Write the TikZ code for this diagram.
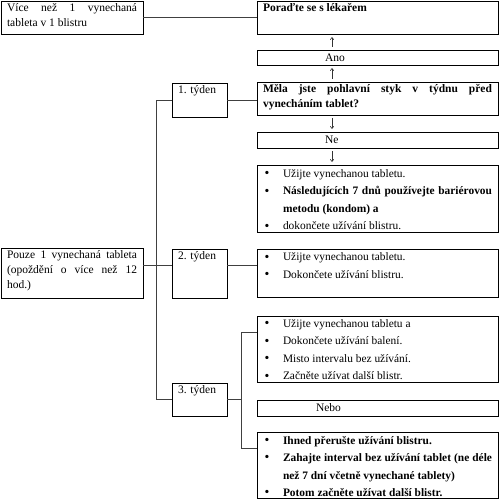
\documentclass[tikz,border=0pt]{standalone}
\usepackage{fontspec}
\setmainfont{Liberation Serif}
\usetikzlibrary{arrows.meta,calc}
\newcommand\bxt[3]{\parbox[t][#2][t]{#1}{#3}}
\newcommand\bxc[3]{\parbox[t][#2][c]{#1}{#3}}
\newcommand\itm[1]{\noindent\hangindent=20pt\hangafter=1\makebox[20pt][l]{\hspace{1.5pt}\raisebox{-0.2pt}{\scalebox{1.2}{\textbullet}}}#1\par}
\newcommand\nrm{\fontsize{11.5}{15}\selectfont}
\newcommand\bul{\fontsize{11.4}{17.5}\selectfont}
\tikzset{
  box/.style={draw, line width=0.9pt, anchor=north west, inner xsep=6pt, inner ysep=1pt, outer sep=0pt},
  conn/.style={draw=black!75, line width=0.8pt},
  arr/.style={draw=black!80, line width=0.6pt, -{Straight Barb[length=2.2pt,width=3.5pt]}},
}
\begin{document}
\begin{tikzpicture}[x=1pt,y=-1pt]
\useasboundingbox (0,0) rectangle (499,500);
% boxes (W = width-12, H = height-2)
\node[box] (more) at (1,1) {\nrm\bxt{130pt}{31pt}{\vspace{1pt}Více než 1 vynechaná\linebreak tableta v 1 blistru}};
\node[box] (porad) at (257,1) {\nrm\bxt{229pt}{31pt}{\vspace{1pt}\textbf{Poraďte se s lékařem}}};
\node[box] (ano) at (257,50) {\nrm\bxc{229pt}{13pt}{\hspace*{62pt}Ano}};
\node[box] (mela) at (257,82) {\nrm\bxt{229pt}{31pt}{\vspace{1.5pt}\textbf{Měla jste pohlavní styk v týdnu před\linebreak vynecháním tablet?}}};
\node[box] (ne) at (257,132) {\nrm\bxc{229pt}{14pt}{\hspace*{62pt}Ne}};
\node[box] (b1) at (257,165) {\bul\bxt{229pt}{65pt}{\vspace{3.5pt}%
  \itm{Užijte vynechanou tabletu.}%
  \itm{\textbf{Následujících 7 dnů používejte bariérovou\linebreak metodu (kondom) a}}%
  \itm{dokončete užívání blistru.}}};
\node[box] (t1) at (172,83) {\nrm\bxt{43pt}{32pt}{\vspace{1.5pt}1. týden}};
\node[box] (pouze) at (1,248) {\nrm\bxt{130pt}{48pt}{\vspace{1.5pt}Pouze 1 vynechaná tableta\linebreak (opoždění o více než 12\linebreak hod.)}};
\node[box] (t2) at (172,249) {\nrm\bxt{43pt}{47pt}{\vspace{1.5pt}2. týden}};
\node[box] (b2) at (257,249) {\bul\bxt{229pt}{46pt}{\vspace{3pt}%
  \itm{Užijte vynechanou tabletu.}%
  \itm{Dokončete užívání blistru.}}};
\node[box] (t3) at (172,383) {\nrm\bxt{43pt}{31pt}{\vspace{1.5pt}3. týden}};
\node[box] (b3) at (257,316) {\bul\bxt{229pt}{64pt}{\vspace{2.5pt}%
  \itm{Užijte vynechanou tabletu a}%
  \itm{Dokončete užívání balení.}%
  \itm{Misto intervalu bez užívání.}%
  \itm{Začněte užívat další blistr.}}};
\node[box] (nebo) at (257,400) {\nrm\bxc{229pt}{14pt}{\hspace*{53pt}Nebo}};
\node[box] (b4) at (257,432) {\bul\bxt{229pt}{64pt}{\vspace{3pt}%
  \itm{\textbf{Ihned přerušte užívání blistru.}}%
  \itm{\textbf{Zahajte interval bez užívání tablet (ne déle\linebreak než 7 dní včetně vynechané tablety)}}%
  \itm{\textbf{Potom začněte užívat další blistr.}}}};
% helper coordinates
\coordinate (sp) at (156,0);
\coordinate (sp3) at (241,0);
\coordinate (ax) at (332,0);
\coordinate (y1) at (0,17);
\coordinate (y2) at (0,265);
\coordinate (y3a) at (0,332);
\coordinate (y3b) at (0,448);
% connectors
\draw[conn] (more.east |- y1) -- (porad.west |- y1);
\draw[conn] (t1.west) -- (t1.west -| sp) -- (t3.west -| sp) -- (t3.west);
\draw[conn] (t1.east) -- (mela.west |- t1.east);
\draw[conn] (pouze.east |- y2) -- (t2.west |- y2);
\draw[conn] (t2.east |- y2) -- (b2.west |- y2);
\draw[conn] (t3.east) -- (t3.east -| sp3);
\draw[conn] (b3.west |- y3a) -- (sp3 |- y3a) -- (sp3 |- y3b) -- (b4.west |- y3b);
% arrows
\draw[arr] ($(ano.north -| ax)+(0,-3)$) -- ($(porad.south -| ax)+(0,3)$);
\draw[arr] ($(mela.north -| ax)+(0,-3)$) -- ($(ano.south -| ax)+(0,3)$);
\draw[arr] ($(mela.south -| ax)+(0,3)$) -- ($(ne.north -| ax)+(0,-3)$);
\draw[arr] ($(ne.south -| ax)+(0,3)$) -- ($(b1.north -| ax)+(0,-3)$);
\end{tikzpicture}
\end{document}
